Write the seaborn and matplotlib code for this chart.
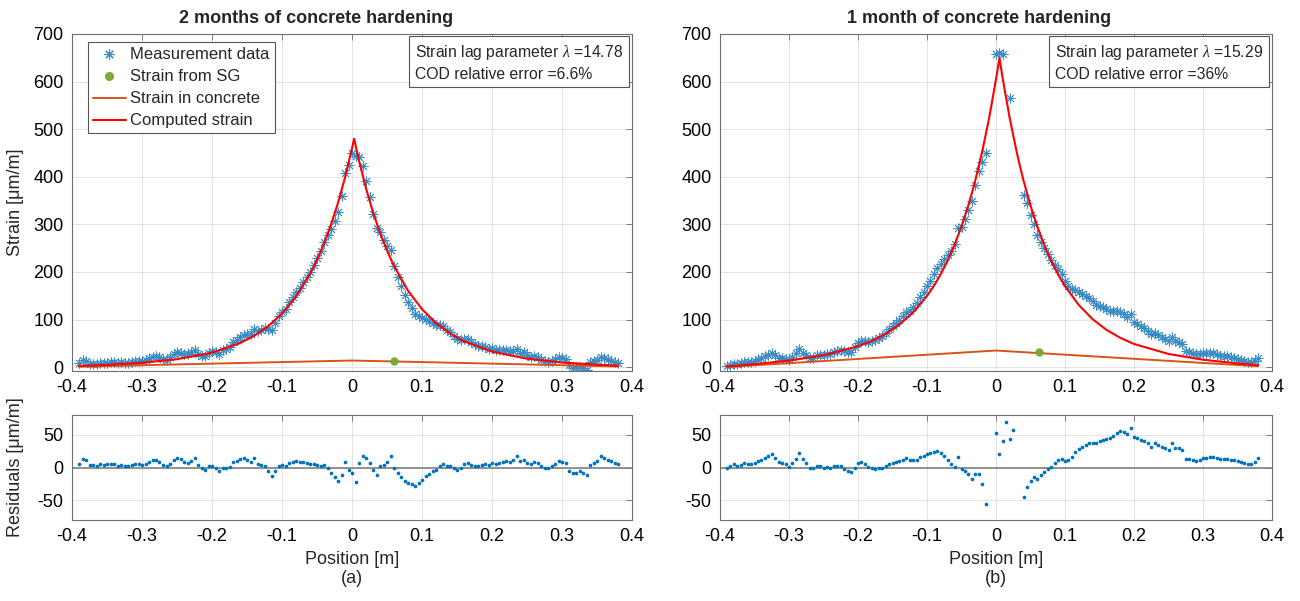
import numpy as np
import pandas as pd
import matplotlib
matplotlib.use("Agg")
import matplotlib.pyplot as plt
from matplotlib.lines import Line2D
import seaborn as sns

sns.set_style("white")
plt.rcParams['font.family'] = ['Liberation Sans', 'DejaVu Sans']
plt.rcParams['axes.unicode_minus'] = False
plt.rcParams['mathtext.fontset'] = 'custom'
plt.rcParams['mathtext.it'] = 'Liberation Serif:italic'

# ---------------- data ----------------
positions = np.round(np.linspace(-0.39, 0.38, 155), 3)   # sensor grid [m]

meas_a_left = [8.4, 15.7, 13.9, 7.3, 7.6, 6.9, 9.2, 8.6, 9.8, 11.2,
               10.6, 9.0, 10.4, 8.9, 9.3, 11.8, 13.3, 13.8, 13.3, 15.9,
               19.5, 22.1, 23.8, 20.5, 17.2, 16.1, 20.9, 26.8, 31.8, 30.7,
               27.9, 27.1, 31.2, 36.5, 28.0, 24.4, 23.1, 30.8, 33.5, 31.5,
               28.6, 35.8, 39.2, 42.8, 53.5, 57.5, 63.7, 68.0, 69.6, 70.5,
               79.7, 75.2, 79.1, 82.1, 80.7, 78.7, 92.1, 107.0, 116.5, 122.4,
               136.0, 147.2, 158.1, 166.7, 179.2, 189.5, 200.8, 215.0, 229.3, 244.8,
               263.6, 277.6, 290.2, 307.3, 325.1, 358.7, 407.3, 423.9, 450.8]
meas_a_right = [444.2, 440.9, 421.8, 390.8, 356.9, 321.7, 292.3, 284.5, 267.1, 254.1,
                246.4, 211.8, 189.4, 169.9, 152.4, 136.8, 125.0, 111.9, 107.6, 102.9,
                100.8, 96.3, 93.3, 88.9, 88.8, 86.1, 78.9, 74.0, 66.4, 58.2,
                57.2, 59.5, 58.2, 52.0, 47.9, 44.2, 43.6, 42.1, 38.9, 39.8,
                35.9, 36.0, 35.3, 35.7, 33.1, 34.7, 38.4, 30.2, 31.0, 24.9,
                21.9, 23.9, 22.0, 16.1, 12.4, 11.6, 13.8, 16.2, 20.5, 18.9,
                16.4, 3.8, -0.8, -0.2, 1.3, -2.2, -5.6, 10.0, 12.6, 15.3,
                21.9, 18.6, 16.2, 13.8, 10.6, 8.3]
resid_a_left = [6, 13, 11, 4, 4, 3, 5, 4, 5, 6,
                5, 3, 4, 2, 2, 4, 5, 5, 4, 6,
                9, 11, 12, 8, 4, 2, 6, 11, 15, 13,
                9, 7, 10, 14, 4, -1, -4, 2, 3, -1,
                -6, -1, 0, 1, 9, 10, 13, 14, 12, 9,
                14, 5, 4, 2, -5, -13, -6, 2, 4, 2,
                7, 9, 10, 8, 9, 7, 5, 5, 4, 3,
                4, -1, -9, -14, -20, -12, 9, -4, -9]
resid_a_right = [-22, 7, 18, 15, 7, -4, -11, 2, 4, 9,
                 18, -1, -9, -15, -20, -24, -25, -28, -23, -19,
                 -13, -10, -6, -4, 2, 5, 3, 3, 0, -4,
                 -1, 5, 7, 4, 3, 2, 4, 5, 4, 7,
                 5, 7, 8, 10, 9, 12, 17, 10, 12, 7,
                 5, 8, 7, 2, -1, -1, 2, 5, 10, 9,
                 7, -5, -9, -8, -6, -9, -12, 4, 7, 10,
                 17, 14, 12, 10, 7, 5]

nan = np.nan
meas_b_left = [1.5, 5.0, 7.6, 6.1, 7.8, 11.3, 11.0, 10.6, 13.3, 16.9,
               19.7, 23.3, 26.1, 30.8, 25.6, 20.3, 19.2, 18.0, 14.9, 21.8,
               28.8, 38.7, 30.8, 25.8, 19.0, 20.1, 25.4, 25.7, 25.1, 27.5,
               28.0, 31.6, 34.3, 35.1, 33.0, 32.0, 32.2, 41.4, 50.9, 54.4,
               54.2, 53.1, 54.2, 56.5, 61.2, 66.0, 72.1, 79.4, 86.1, 92.1,
               99.5, 107.2, 116.4, 119.1, 127.2, 134.9, 147.1, 157.1, 169.6, 181.8,
               194.8, 207.7, 217.5, 226.3, 236.1, 245.1, 258.3, 291.9, 293.8, 312.3,
               330.5, 348.5, 382.4, 411.6, 430.9, 449.0, nan, nan, 658.0]
meas_b_right = [660, 658.8, nan, 565, nan, nan, nan, 362, 345, 320,
                301.5, 278, 263, 249.6, 237.4, 224.5, 215.6, 205.9, 195.1, 180.2,
                171.2, 165, 162.5, 158.6, 154.3, 149.7, 144.6, 138.9, 131.7, 129,
                125.6, 121.6, 119, 117.6, 117.6, 116.8, 112.1, 105.8, 111.8, 95.8,
                91.1, 85.6, 82.1, 75.9, 68.8, 72.7, 67.9, 63.1, 59.4, 54.8,
                63.4, 54.9, 53.6, 49.3, 34, 32.9, 29.8, 27.7, 28.7, 30.7,
                29.8, 29.9, 29, 27.2, 24.4, 23.6, 22.9, 21.2, 19.4, 17.8,
                15.1, 13.4, 11.8, 10.2, 12.5, 19]
resid_b_left = [0, 3, 5, 3, 4, 7, 6, 5, 7, 10,
                12, 15, 17, 21, 15, 9, 7, 5, 1, 7,
                13, 22, 13, 7, -1, -1, 3, 2, 0, 1,
                0, 2, 3, 2, -2, -5, -7, 0, 7, 8,
                5, 1, -1, -2, -1, 0, 2, 5, 7, 8,
                10, 12, 15, 11, 12, 12, 16, 17, 20, 22,
                24, 25, 22, 17, 12, 5, 1, 16, -2, -5,
                -10, -17, -10, -10, -25, -55, nan, nan, 52]
resid_b_right = [20, 40, 70, 43, 57, nan, nan, -45, -30, -20,
                 -15, -17, -12, -7, -2, 1, 7, 11, 13, 10,
                 12, 16, 23, 28, 32, 35, 37, 38, 37, 40,
                 42, 43, 45, 48, 52, 55, 54, 51, 60, 47,
                 45, 42, 41, 37, 32, 38, 35, 32, 30, 27,
                 37, 30, 30, 27, 13, 13, 11, 10, 12, 15,
                 15, 16, 16, 15, 13, 13, 13, 12, 11, 10,
                 8, 7, 6, 5, 8, 15]

comp_a_x = [-0.39, -0.35, -0.30, -0.25, -0.20, -0.16, -0.14, -0.12, -0.10, -0.08,
            -0.06, -0.05, -0.04, -0.03, -0.02, -0.01, 0.0, 0.003, 0.01, 0.02,
            0.03, 0.04, 0.05, 0.06, 0.08, 0.10, 0.12, 0.14, 0.16, 0.20,
            0.25, 0.30, 0.35, 0.38]
comp_a_y = [2.4, 4.8, 9.3, 16.8, 30.5, 50.7, 65.7, 85.7, 112.5, 148.1,
            195.8, 225.3, 259.6, 299.2, 345.1, 398.3, 459.8, 480, 433.9, 375.8,
            325.7, 282.5, 245.1, 212.8, 160.8, 121.9, 92.9, 71.0, 54.5, 32.8,
            17.9, 9.9, 5.3, 3.3]
comp_b_x = [-0.39, -0.35, -0.30, -0.25, -0.20, -0.18, -0.16, -0.14, -0.12, -0.10,
            -0.09, -0.08, -0.07, -0.06, -0.05, -0.04, -0.035, -0.03, -0.02, -0.01,
            0.0, 0.005, 0.01, 0.02, 0.03, 0.035, 0.04, 0.05, 0.06, 0.07,
            0.08, 0.09, 0.10, 0.12, 0.14, 0.16, 0.18, 0.20, 0.25, 0.30,
            0.35, 0.38]
comp_b_y = [1.5, 6.3, 13.9, 25.1, 43.9, 55.2, 70.1, 89.5, 115.2, 149.6,
            170.8, 195.5, 224.1, 257.3, 295.8, 340.5, 365.5, 392.4, 452.9, 523.1,
            604.7, 649.6, 603.8, 522.3, 452.1, 420.8, 391.6, 339.8, 295.1, 256.6,
            223.5, 194.9, 170.2, 130.6, 100.9, 78.6, 61.8, 48.8, 27.8, 15.7,
            7.8, 4.0]

conc_a_x = [-0.39, -0.20, 0.0, 0.20, 0.38]
conc_a_y = [1.0, 7.5, 14.0, 7.5, 1.5]
conc_b_x = [-0.39, 0.0, 0.38]
conc_b_y = [0.5, 35.0, 2.0]

sg_a = ([0.06], [12.0])
sg_b = ([0.062], [31.0])

titles = ["2 months of concrete hardening", "1 month of concrete hardening"]
title_x = [0.435, 0.47]
notes = ["Strain lag parameter $\\lambda$ =14.78\nCOD relative error =6.6%",
         "Strain lag parameter $\\lambda$ =15.29\nCOD relative error =36%"]
panel_tags = ["(a)", "(b)"]
x_ticks = [-0.4, -0.3, -0.2, -0.1, 0, 0.1, 0.2, 0.3, 0.4]
x_tick_labels = ["-0.4", "-0.3", "-0.2", "-0.1", "0", "0.1", "0.2", "0.3", "0.4"]

# ---------------- styling ----------------
C_MEAS = "#3A8CC4"
C_RES = "#0072BD"
C_SG = "#77AC30"
C_CONC = "#D95319"
C_COMP = "#FF0000"
C_GRID = "#E3E3E3"
C_SPINE = "#6E6E6E"
STAR = (8, 2, 0)

W, H = 1300, 601
fig = plt.figure(figsize=(13, 6.01), dpi=100)

def box(l, t, w, h):
    return [l / W, 1 - (t + h) / H, w / W, h / H]

layout = [
    (box(72, 34, 560, 337), box(72, 415, 560, 105)),
    (box(720, 34, 552, 337), box(720, 415, 552, 105)),
]

datasets = [
    dict(meas=meas_a_left + meas_a_right, res=resid_a_left + resid_a_right,
         cx=comp_a_x, cy=comp_a_y, kx=conc_a_x, ky=conc_a_y, sg=sg_a),
    dict(meas=meas_b_left + meas_b_right, res=resid_b_left + resid_b_right,
         cx=comp_b_x, cy=comp_b_y, kx=conc_b_x, ky=conc_b_y, sg=sg_b),
]

def style_axes(ax):
    ax.set_xlim(-0.4, 0.4)
    ax.set_xticks(x_ticks)
    ax.set_xticklabels(x_tick_labels)
    ax.grid(True, color=C_GRID, linewidth=0.7)
    ax.set_axisbelow(True)
    for s in ax.spines.values():
        s.set_color(C_SPINE)
        s.set_linewidth(0.8)
        s.set_visible(True)
    ax.tick_params(direction="in", top=True, right=True, length=4, width=0.6,
                   color=C_SPINE, labelsize=13, labelcolor="black", pad=6)

for idx, ((pos_top, pos_res), d) in enumerate(zip(layout, datasets)):
    ax = fig.add_axes(pos_top)
    axr = fig.add_axes(pos_res)

    df = pd.DataFrame({"x": positions, "meas": d["meas"], "res": d["res"]})
    dm = df.dropna(subset=["meas"])
    dr = df.dropna(subset=["res"])

    sns.scatterplot(data=dm, x="x", y="meas", ax=ax, marker=STAR, s=44,
                    color=C_MEAS, edgecolor=C_MEAS, linewidth=0.65, zorder=2)
    sns.lineplot(x=d["kx"], y=d["ky"], ax=ax, sort=False, estimator=None,
                 color=C_CONC, linewidth=1.4, zorder=3)
    sns.lineplot(x=d["cx"], y=d["cy"], ax=ax, sort=False, estimator=None,
                 color=C_COMP, linewidth=1.5, zorder=4)
    sns.scatterplot(x=d["sg"][0], y=d["sg"][1], ax=ax, marker="o", s=30,
                    color=C_SG, edgecolor=C_SG, linewidth=0.5, zorder=5)

    style_axes(ax)
    ax.set_ylim(-8, 700)
    ax.set_yticks(range(0, 701, 100))
    ax.set_xlabel("")
    ax.set_ylabel("Strain [\u03bcm/m]" if idx == 0 else "", fontsize=13)
    ax.set_title(titles[idx], fontsize=13, fontweight="bold", pad=8,
                 x=title_x[idx])

    ax.text(0.984, 0.972, notes[idx], transform=ax.transAxes, ha="right", va="top",
            multialignment="left", fontsize=11.3, linespacing=1.35,
            bbox=dict(boxstyle="square,pad=0.35", facecolor="white",
                      edgecolor="#555555", linewidth=0.8), zorder=6)

    if idx == 0:
        handles = [
            Line2D([], [], linestyle="none", marker=STAR, markersize=7.5,
                   markeredgecolor=C_MEAS, markeredgewidth=0.8, color=C_MEAS),
            Line2D([], [], linestyle="none", marker="o", markersize=5.5,
                   color=C_SG),
            Line2D([], [], color=C_CONC, linewidth=1.4),
            Line2D([], [], color=C_COMP, linewidth=1.5),
        ]
        labels = ["Measurement data", "Strain from SG", "Strain in concrete",
                  "Computed strain"]
        leg = ax.legend(handles, labels, loc="upper left",
                        bbox_to_anchor=(0.028, 0.975), fontsize=12,
                        frameon=True, fancybox=False, framealpha=1,
                        edgecolor="#555555", borderpad=0.3, labelspacing=0.42,
                        handlelength=2.0, handletextpad=0.25, borderaxespad=0)
        leg.get_frame().set_linewidth(0.8)
        leg.set_zorder(7)

    # residuals
    axr.axhline(0, color="#808080", linewidth=1.2, zorder=1)
    sns.scatterplot(data=dr, x="x", y="res", ax=axr, marker="o", s=7,
                    color=C_RES, linewidth=0, zorder=3)
    style_axes(axr)
    axr.set_ylim(-80, 80)
    axr.set_yticks([-50, 0, 50])
    axr.set_ylabel("Residuals [\u03bcm/m]" if idx == 0 else "", fontsize=13)
    axr.set_xlabel("Position [m]\n" + panel_tags[idx], fontsize=13,
                   linespacing=1.15, labelpad=4)

fig.axes[0].yaxis.set_label_coords(-0.085, 0.5)
fig.axes[1].yaxis.set_label_coords(-0.085, 0.5)

fig.savefig("out.png", dpi=100)
